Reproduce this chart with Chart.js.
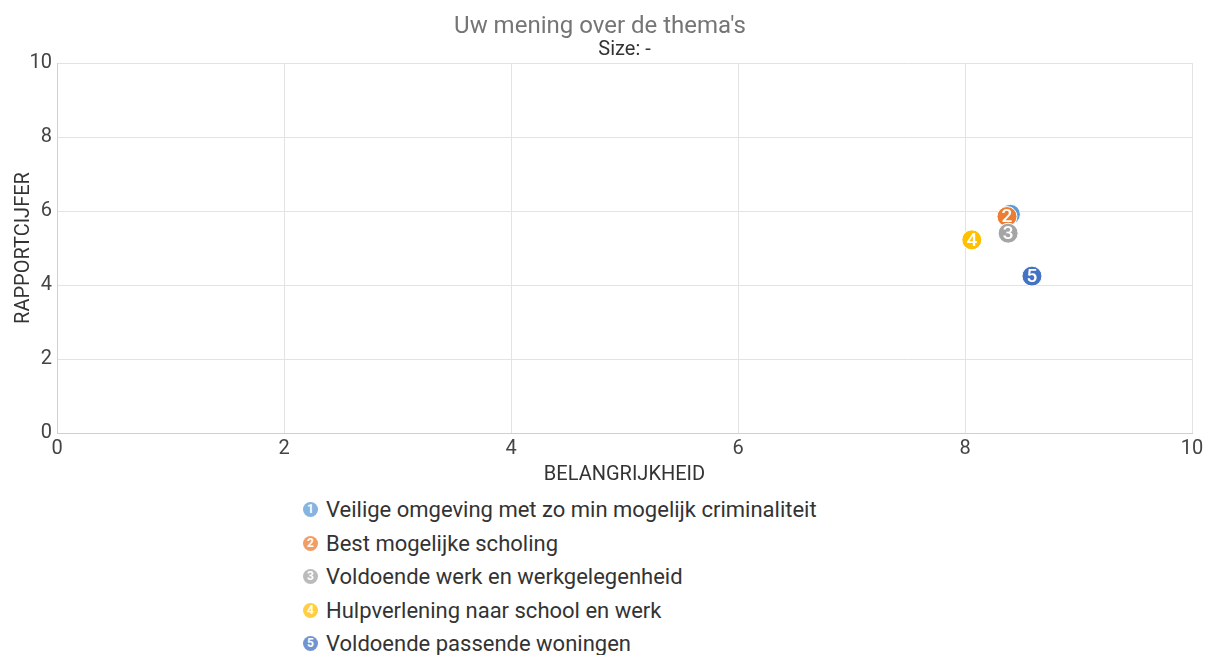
<!DOCTYPE html>
<html>
<head>
<meta charset="utf-8">
<script src="https://cdn.jsdelivr.net/npm/chart.js@4.4.1/dist/chart.umd.min.js"></script>
<style>
    html, body { margin: 0; padding: 0; background: #fff; overflow: hidden; }
    #wrap { position: relative; width: 1206px; height: 491px; }
    #legend { position: absolute; left: 303px; top: 493px; font-family: Roboto, sans-serif; font-size: 22px; color: #333; }
    .item { height: 33.6px; line-height: 33.6px; white-space: nowrap; }
    .dot { display: inline-block; width: 15px; height: 15px; border-radius: 50%; color: #fff; font-size: 12px; font-weight: bold;
           line-height: 15px; text-align: center; vertical-align: 4px; margin-right: 8px; opacity: 0.75; }
</style>
</head>
<body>
<div id="wrap"><canvas id="myChart"></canvas></div>
<div id="legend"></div>
<script>
var categories = [
    'Veilige omgeving met zo min mogelijk criminaliteit',
    'Best mogelijke scholing',
    'Voldoende werk en werkgelegenheid',
    'Hulpverlening naar school en werk',
    'Voldoende passende woningen'
];
var belangrijkheid = [8.40, 8.37, 8.38, 8.06, 8.59];
var rapportcijfer = [5.91, 5.85, 5.40, 5.22, 4.24];
var colors = ['#5b9bd5', '#ed7d31', '#a5a5a5', '#ffc000', '#4472c4'];
var axisTicks = [0, 2, 4, 6, 8, 10];

window.onload = function () {
    var datasets = categories.map(function (name, i) {
        return {
            label: name,
            data: [{ x: belangrijkheid[i], y: rapportcijfer[i] }],
            backgroundColor: colors[i],
            borderColor: '#ffffff',
            borderWidth: 1,
            pointRadius: 10,
            pointHoverRadius: 10,
            order: categories.length - i
        };
    });

    // white number inside each point, drawn right after its own dataset
    var numberLabels = {
        id: 'numberLabels',
        afterDatasetDraw: function (chart, args) {
            var ctx = chart.ctx;
            ctx.save();
            ctx.fillStyle = '#ffffff';
            ctx.font = '500 19px Roboto';
            ctx.textAlign = 'center';
            ctx.textBaseline = 'middle';
            args.meta.data.forEach(function (pt) {
                ctx.fillText(String(args.index + 1), pt.x, pt.y + 1);
            });
            ctx.restore();
        }
    };

    var tickFont = { family: 'Roboto', size: 20 };
    var ctx = document.getElementById('myChart').getContext('2d');
    var myChart = new Chart(ctx, {
        type: 'scatter',
        data: { datasets: datasets },
        plugins: [numberLabels],
        options: {
            responsive: true,
            maintainAspectRatio: false,
            animation: false,
            layout: { padding: { left: 8, right: 14, bottom: 0 } },
            plugins: {
                legend: { display: false },
                tooltip: { enabled: false },
                title: {
                    display: true,
                    text: "Uw mening over de thema's",
                    color: '#757575',
                    font: { family: 'Roboto', size: 24, weight: 'normal', lineHeight: 1.1 },
                    padding: { top: 14, bottom: 0 }
                },
                subtitle: {
                    display: true,
                    fullSize: false,
                    text: 'Size: -',
                    color: '#333333',
                    font: { family: 'Roboto', size: 20, lineHeight: 1.0 },
                    padding: { top: 0, bottom: 2.6 }
                }
            },
            scales: {
                x: {
                    type: 'linear',
                    min: 0,
                    max: 10,
                    afterBuildTicks: function (axis) { axis.ticks = axisTicks.map(function (v) { return { value: v }; }); },
                    afterFit: function (axis) { axis.paddingRight = 0; },
                    grid: { color: '#e3e3e3', drawTicks: false },
                    border: { color: '#d0d0d0' },
                    ticks: { color: '#444', font: tickFont, padding: 4 },
                    title: { display: true, text: 'BELANGRIJKHEID', color: '#333', font: tickFont, padding: { top: -2, bottom: 4 } }
                },
                y: {
                    type: 'linear',
                    min: 0,
                    max: 10,
                    afterBuildTicks: function (axis) { axis.ticks = axisTicks.map(function (v) { return { value: v }; }); },
                    afterFit: function (axis) { axis.width = 49; },
                    grid: { color: '#e3e3e3', drawTicks: false },
                    border: { color: '#d0d0d0' },
                    ticks: { color: '#444', font: tickFont, padding: 5 },
                    title: { display: true, text: 'RAPPORTCIJFER', color: '#333', font: tickFont, padding: { top: 4, bottom: 4 } }
                }
            }
        }
    });

    var legend = document.getElementById('legend');
    categories.forEach(function (name, i) {
        var item = document.createElement('div');
        item.className = 'item';
        var dot = document.createElement('span');
        dot.className = 'dot';
        dot.style.background = colors[i];
        dot.textContent = String(i + 1);
        item.appendChild(dot);
        item.appendChild(document.createTextNode(name));
        legend.appendChild(item);
    });
};
</script>
</body>
</html>
